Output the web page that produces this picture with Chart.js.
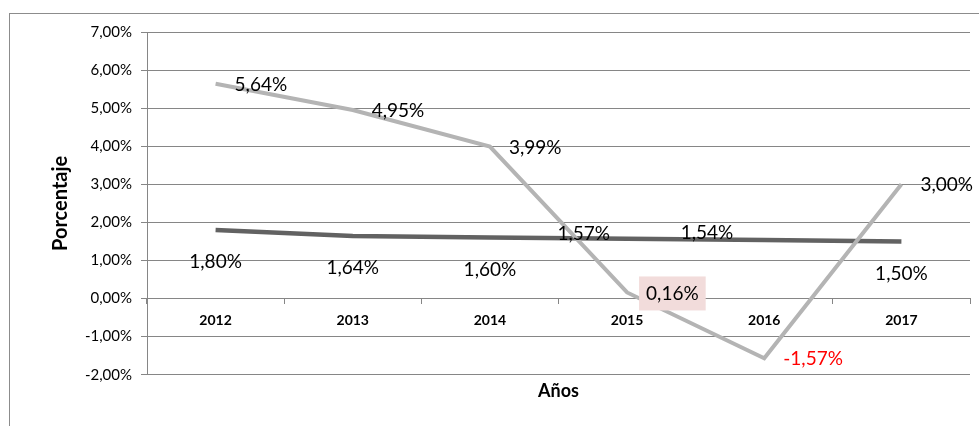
<!DOCTYPE html>
<html>
<head>
<meta charset="utf-8">
<script src="https://cdn.jsdelivr.net/npm/chart.js@4.4.0/dist/chart.umd.min.js"></script>
<style>
    html, body { margin: 0; padding: 0; background: #fff; overflow: hidden; }
    #frame { position: absolute; left: 9px; top: 13px; width: 1200px; height: 600px; border: 1px solid #8c8c8c; }
    #wrap { position: absolute; left: 0; top: 0; width: 979px; height: 426px; }
</style>
</head>
<body>
<div id="frame"></div>
<div id="wrap"><canvas id="myChart"></canvas></div>
<script>
    const years = ["2012", "2013", "2014", "2015", "2016", "2017"];
    const serieClara = [5.64, 4.95, 3.99, 0.16, -1.57, 3.00];
    const serieOscura = [1.80, 1.64, 1.60, 1.57, 1.54, 1.50];
    const yTicks = [-2, -1, 0, 1, 2, 3, 4, 5, 6, 7];

    const gridColor = "#868686";

    // where each value label sits relative to its point
    const placements = {
        right: { dx: 19, dy: 1, align: "left" },
        below: { dx: 0, dy: 32, align: "center" },
        left: { dx: -17, dy: -5, align: "right" },
        farLeft: { dx: -31, dy: -7, align: "right" },
    };
    const placeClara = ["right", "right", "right", "right", "right", "right"];
    const placeOscura = ["below", "below", "below", "left", "farLeft", "below"];
    const fondoClara = [null, null, null, "#f2dcdb", null, null];

    function pct(v) {
        return v.toFixed(2).replace(".", ",") + "%";
    }

    const valueLabels = {
        id: "valueLabels",
        afterDatasetsDraw(chart) {
            const ctx = chart.ctx;
            ctx.save();
            ctx.font = "19px Lato";
            ctx.textBaseline = "middle";
            chart.data.datasets.forEach(function (ds, i) {
                const meta = chart.getDatasetMeta(i);
                meta.data.forEach(function (pt, j) {
                    const p = placements[ds.placement[j]];
                    const text = pct(ds.data[j]);
                    const x = pt.x + p.dx;
                    const y = pt.y + p.dy;
                    const w = ctx.measureText(text).width;
                    const bg = ds.labelBg ? ds.labelBg[j] : null;
                    if (bg) {
                        let left = x;
                        if (p.align === "center") left = x - w / 2;
                        if (p.align === "right") left = x - w;
                        ctx.fillStyle = bg;
                        ctx.fillRect(left - 7, y - 17, w + 14, 34);
                    }
                    ctx.textAlign = p.align;
                    ctx.fillStyle = ds.data[j] < 0 ? "#ff0000" : "#000";
                    ctx.fillText(text, x, y);
                });
            });
            ctx.restore();
        },
    };

    Chart.defaults.font.family = "Lato";

    new Chart(document.getElementById("myChart"), {
        type: "line",
        data: {
            labels: years,
            datasets: [
                {
                    data: serieClara,
                    borderColor: "#b4b4b4",
                    borderWidth: 4,
                    pointRadius: 0,
                    tension: 0,
                    placement: placeClara,
                    labelBg: fondoClara,
                },
                {
                    data: serieOscura,
                    borderColor: "#626262",
                    borderWidth: 4.5,
                    pointRadius: 0,
                    tension: 0,
                    placement: placeOscura,
                },
            ],
        },
        options: {
            responsive: true,
            maintainAspectRatio: false,
            animation: false,
            layout: { padding: { left: 0, top: 32, right: 9, bottom: 0 } },
            plugins: {
                legend: { display: false },
                tooltip: { enabled: false },
                title: {
                    display: true,
                    text: "Años",
                    position: "bottom",
                    fullSize: false,
                    color: "#000",
                    font: { size: 18, weight: "bold" },
                    padding: { top: 5.5, bottom: 24.2 },
                },
            },
            scales: {
                x: {
                    position: { y: 0 },
                    offset: true,
                    grid: {
                        offset: true,
                        drawOnChartArea: false,
                        drawTicks: true,
                        tickLength: 5,
                        color: gridColor,
                    },
                    border: { color: gridColor },
                    ticks: {
                        color: "#000",
                        font: { size: 14, weight: "bold" },
                        padding: 9,
                        maxRotation: 0,
                    },
                },
                y: {
                    min: yTicks[0],
                    max: yTicks[yTicks.length - 1],
                    afterBuildTicks(scale) {
                        scale.ticks = yTicks.map(function (v) { return { value: v }; });
                    },
                    afterFit(scale) {
                        scale.width = 147;
                    },
                    ticks: {
                        color: "#000",
                        font: { size: 15 },
                        padding: 9,
                        callback: function (v) { return pct(v); },
                    },
                    grid: { color: gridColor, tickLength: 6 },
                    border: { color: gridColor },
                    title: {
                        display: true,
                        text: "Porcentaje",
                        color: "#000",
                        font: { size: 20, weight: "bold" },
                        padding: { top: 49, bottom: 0 },
                    },
                },
            },
        },
        plugins: [valueLabels],
    });
</script>
</body>
</html>
